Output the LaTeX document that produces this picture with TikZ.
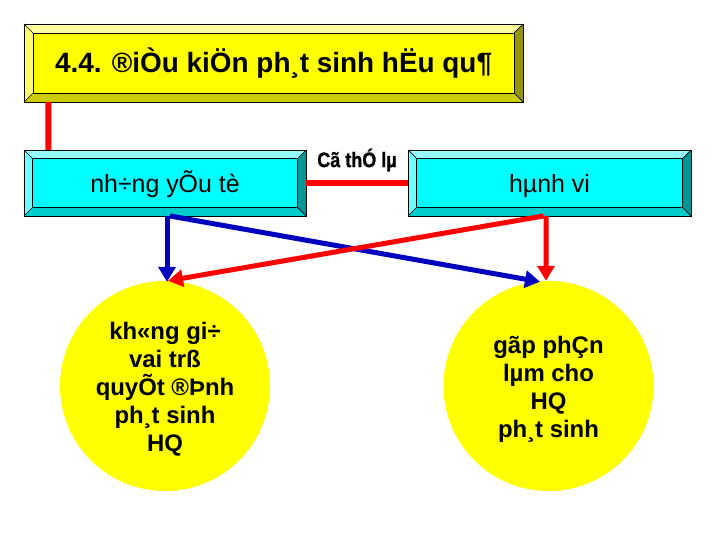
\documentclass[tikz,border=0pt]{standalone}
\usepackage{fontspec}
\setmainfont{Liberation Sans}
\newfontfamily\heavyfont{Liberation Sans Bold}[FakeBold=1.2]
\usetikzlibrary{arrows.meta}
\definecolor{ylface}{RGB}{255,255,0}
\definecolor{yltop}{RGB}{255,255,160}
\definecolor{ylleft}{RGB}{255,255,110}
\definecolor{ylbot}{RGB}{204,204,0}
\definecolor{ylright}{RGB}{150,150,0}
\definecolor{cyface}{RGB}{0,255,255}
\definecolor{cytop}{RGB}{150,255,255}
\definecolor{cyleft}{RGB}{110,255,255}
\definecolor{cybot}{RGB}{0,204,204}
\definecolor{cyright}{RGB}{0,150,150}
\definecolor{darrowblue}{RGB}{0,0,190}
\definecolor{linered}{RGB}{255,0,0}
\newcommand\mybevel[6]{%
  \fill[#3] (#1.north west) -- (#1.north east) -- ([shift={(-#2,#2)}]#1.north east) -- ([shift={(#2,#2)}]#1.north west) -- cycle;
  \fill[#4] (#1.north west) -- ([shift={(#2,#2)}]#1.north west) -- ([shift={(#2,-#2)}]#1.south west) -- (#1.south west) -- cycle;
  \fill[#5] (#1.south west) -- ([shift={(#2,-#2)}]#1.south west) -- ([shift={(-#2,-#2)}]#1.south east) -- (#1.south east) -- cycle;
  \fill[#6] (#1.north east) -- (#1.south east) -- ([shift={(-#2,-#2)}]#1.south east) -- ([shift={(-#2,#2)}]#1.north east) -- cycle;
  \draw[bevline] (#1.north west) -- ([shift={(#2,#2)}]#1.north west)
    (#1.north east) -- ([shift={(-#2,#2)}]#1.north east)
    (#1.south west) -- ([shift={(#2,-#2)}]#1.south west)
    (#1.south east) -- ([shift={(-#2,-#2)}]#1.south east);
  \draw[bevline] ([shift={(#2,#2)}]#1.north west) rectangle ([shift={(-#2,-#2)}]#1.south east);
  \draw[bevline] (#1.north west) rectangle (#1.south east);
}
\newcommand\firststrut{\rule{0pt}{24bp}}
\begin{document}
\begin{tikzpicture}[x=1bp,y=-1bp,
  bevline/.style={black,line width=0.7bp},
  boxnode/.style={inner sep=0pt,outer sep=0pt,text height=25bp,text depth=5bp},
  circnode/.style={circle,fill=ylface,minimum size=210bp,inner sep=0pt,align=center,
     font=\fontsize{24}{28}\selectfont\bfseries},
  thickline/.style={line width=6bp,linered},
  arrowblue/.style={line width=5bp,darrowblue,-{Triangle[length=15bp,width=17bp]}},
  arrowred/.style={line width=5bp,linered,-{Triangle[length=15bp,width=17bp]}}]
\useasboundingbox (0,0) rectangle (720,540);
\fill[white] (0,0) rectangle (720,540);
% title
\node[boxnode,fill=ylface,minimum width=499bp,minimum height=78bp,
  font=\fontsize{28}{32}\selectfont\bfseries] (T) at (273.5,63) {4.4. ®iÒu kiÖn ph¸t sinh hËu qu¶};
\mybevel{T}{9}{yltop}{ylleft}{ylbot}{ylright}
% cyan boxes
\node[boxnode,fill=cyface,minimum width=282bp,minimum height=66bp,
  font=\fontsize{25}{28}\selectfont] (L) at (165,183) {nh÷ng yÕu tè};
\mybevel{L}{8.5}{cytop}{cyleft}{cybot}{cyright}
\node[boxnode,fill=cyface,minimum width=283bp,minimum height=66bp,
  font=\fontsize{25}{28}\selectfont] (R) at (549.5,183) {hµnh vi};
\mybevel{R}{8.5}{cytop}{cyleft}{cybot}{cyright}
% connectors
\draw[thickline] ([xshift=24.5bp]T.south west) -- ([xshift=24.5bp]L.north west);
\draw[thickline] (L.east) -- (R.west);
\node[font=\fontsize{21}{22}\heavyfont,xscale=0.86,inner sep=0pt] (lbl) at (357,160) {Cã thÓ lµ};
% circles
\node[circnode] (C1) at (165,386) {\firststrut kh«ng gi÷\\vai trß\\quyÕt ®Þnh\\ph¸t sinh\\HQ};
\node[circnode] (C2) at (548.5,386) {\firststrut gãp phÇn\\lµm cho\\HQ\\ph¸t sinh};
% arrows
\draw[arrowblue] ([xshift=2bp]L.south) -- ([xshift=2bp,yshift=-1bp]C1.north);
\draw[arrowblue] ([xshift=5bp]L.south) -- ([xshift=-8.5bp,yshift=-1bp]C2.north);
\draw[arrowred] ([xshift=-6bp]R.south) -- ([xshift=3bp]C1.north);
\draw[arrowred] ([xshift=-3.5bp]R.south) -- ([xshift=-2.5bp]C2.north);
\end{tikzpicture}
\end{document}
